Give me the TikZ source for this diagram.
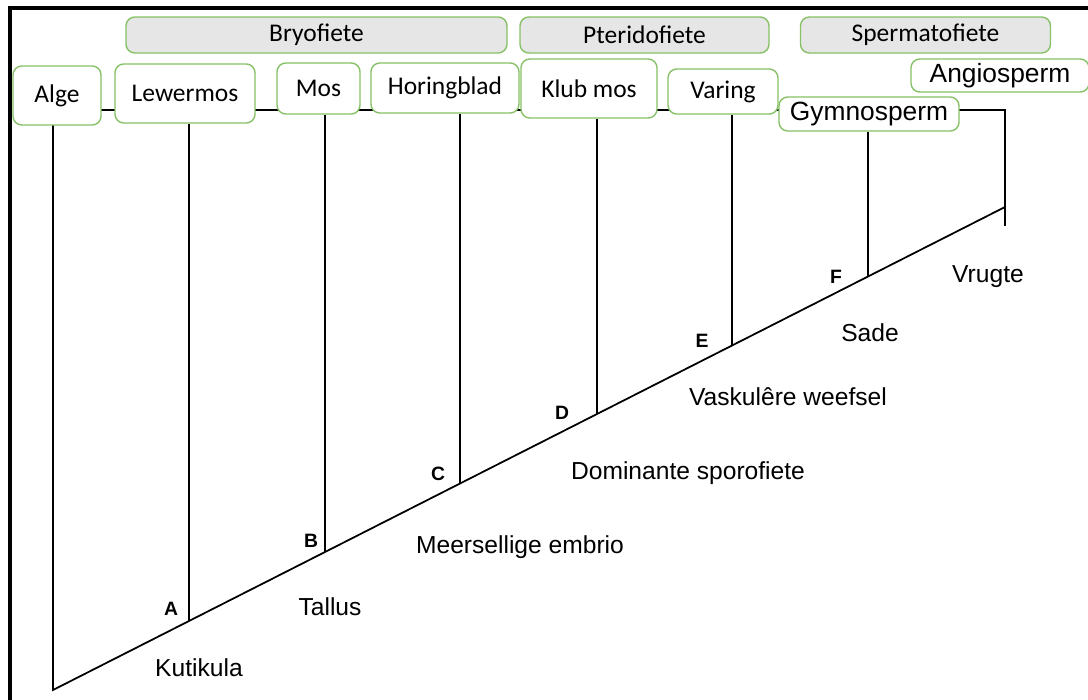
\documentclass[tikz,border=0pt]{standalone}
\usepackage{fontspec}
\setmainfont{Liberation Sans}
\newfontfamily\boxfont{Carlito}
\definecolor{groen}{HTML}{86C166}
\definecolor{grys}{HTML}{E6E6E6}
\tikzstyle{taxon}=[rectangle,
                   draw=groen,
                   line width=0.8pt,
                   rounded corners=5pt,
                   fill=white,
                   inner sep=0pt,
                   text centered,
                   font=\boxfont\fontsize{14.5}{16}\selectfont
                  ]
\tikzstyle{groep}=[taxon, fill=grys, minimum height=0.72cm]
\tikzstyle{saad}=[taxon, font=\fontsize{15}{17}\selectfont]
\tikzstyle{kenmerk}=[font=\fontsize{14}{16}\selectfont]
\tikzstyle{punt}=[font=\bfseries\fontsize{11}{13}\selectfont]

\begin{document}
\begin{tikzpicture}[line width=1pt]
  \useasboundingbox (0cm, 0cm) rectangle (21.76cm, -14cm);
  \draw[line width=2.2pt] (0.2cm, -14cm) -- (0.2cm, -0.16cm) -- (21.76cm, -0.16cm);

  \coordinate (root) at (1.06cm, -13.8cm);
  \coordinate (tip) at (20.1cm, -4.14cm);
  \coordinate (h0) at (1.06cm, -2.2cm);
  \coordinate (h1) at (20.1cm, -2.2cm);
  \coordinate (bA) at (3.78cm, -12.42cm);
  \coordinate (bB) at (6.5cm, -11.04cm);
  \coordinate (bC) at (9.2cm, -9.67cm);
  \coordinate (bD) at (11.94cm, -8.28cm);
  \coordinate (bE) at (14.64cm, -6.91cm);
  \coordinate (bF) at (17.36cm, -5.53cm);

  \draw[-] (h0) -- (h1) -- (tip);
  \draw[-] (h0) -- (root) -- (tip);
  \draw[-] (tip) -- ++(0cm, -0.38cm);

  \node at (6.33cm, -0.7cm) (bry) [groep, minimum width=7.62cm] {Bryofiete};
  \node at (12.89cm, -0.7cm) (pter) [groep, minimum width=4.98cm] {Pteridofiete};
  \node at (18.51cm, -0.7cm) (sperm) [groep, minimum width=5.0cm] {Spermatofiete};

  \node at (1.14cm, -1.91cm) (alge) [taxon, minimum width=1.76cm, minimum height=1.18cm] {Alge};
  \node at (3.7cm, -1.87cm) (lew) [taxon, minimum width=2.8cm, minimum height=1.18cm] {Lewermos};
  \node at (6.37cm, -1.77cm) (mos) [taxon, minimum width=1.66cm, minimum height=1.02cm] {Mos};
  \node at (8.9cm, -1.76cm) (hor) [taxon, minimum width=2.96cm, minimum height=1.0cm] {Horingblad};
  \node at (11.78cm, -1.77cm) (klub) [taxon, minimum width=2.72cm, minimum height=1.18cm] {Klub mos};
  \node at (14.46cm, -1.83cm) (var) [taxon, minimum width=2.2cm, minimum height=0.9cm] {Varing};
  \node at (17.38cm, -2.28cm) (gym) [saad, minimum width=3.6cm, minimum height=0.68cm] {Gymnosperm};
  \node at (20.0cm, -1.51cm) (ang) [saad, minimum width=3.56cm, minimum height=0.66cm] {Angiosperm};

  \draw[-] (bA |- lew.south) -- (bA);
  \draw[-] (bB |- mos.south) -- (bB);
  \draw[-] (bC |- hor.south) -- (bC);
  \draw[-] (bD |- klub.south) -- (bD);
  \draw[-] (bE |- var.south) -- (bE);
  \draw[-] (bF |- gym.south) -- (bF);

  \node at (3.42cm, -12.18cm) (pA) [punt] {A};
  \node at (6.22cm, -10.82cm) (pB) [punt] {B};
  \node at (8.76cm, -9.48cm) (pC) [punt] {C};
  \node at (11.24cm, -8.26cm) (pD) [punt] {D};
  \node at (14.04cm, -6.82cm) (pE) [punt] {E};
  \node at (16.72cm, -5.54cm) (pF) [punt] {F};

  \node at (3.98cm, -13.36cm) (kut) [kenmerk] {Kutikula};
  \node at (6.6cm, -12.14cm) (tal) [kenmerk] {Tallus};
  \node at (10.4cm, -10.94cm) (emb) [kenmerk] {Meersellige embrio};
  \node at (13.76cm, -9.46cm) (spo) [kenmerk] {Dominante sporofiete};
  \node at (15.76cm, -7.94cm) (vas) [kenmerk] {Vaskulêre weefsel};
  \node at (17.4cm, -6.66cm) (sad) [kenmerk] {Sade};
  \node at (19.76cm, -5.54cm) (vru) [kenmerk] {Vrugte};
\end{tikzpicture}
\end{document}
